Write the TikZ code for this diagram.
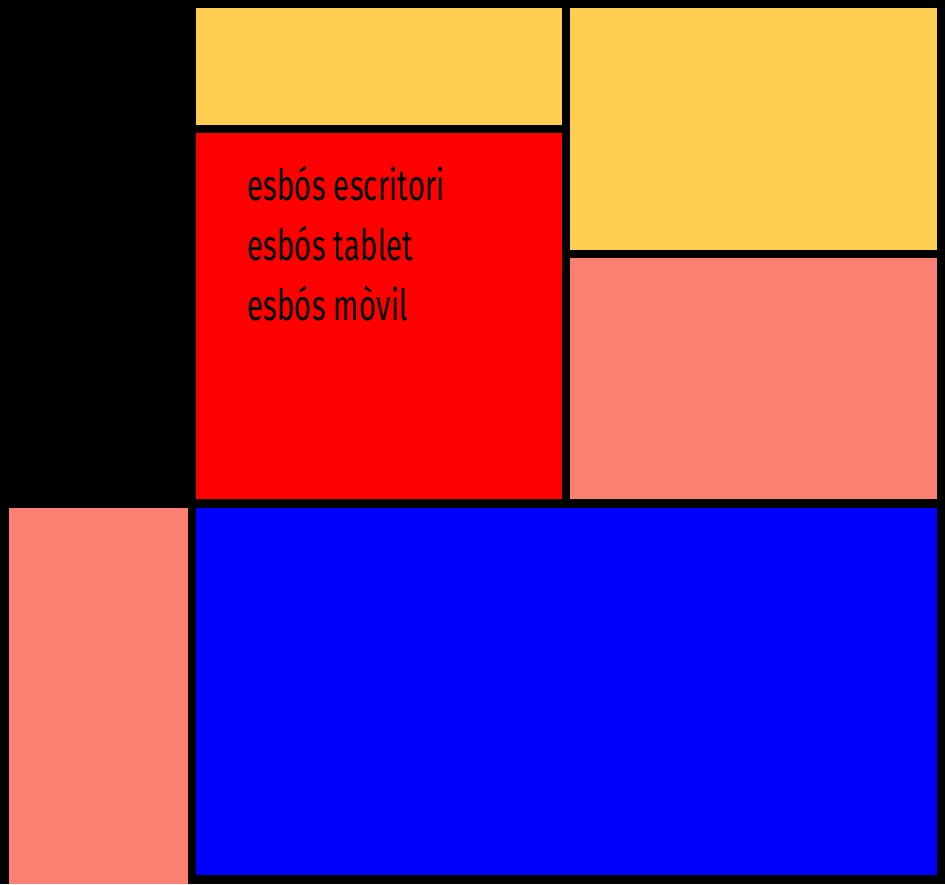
\documentclass[tikz,border=0pt]{standalone}
\usepackage{fontspec}
\setmainfont{Fira Sans}[FakeStretch=0.69]
\definecolor{myyellow}{HTML}{FFCE51}
\definecolor{mysalmon}{HTML}{FA8072}
\definecolor{myred}{HTML}{FF0000}
\definecolor{myblue}{HTML}{0000FF}
\tikzset{
  label/.style={anchor=base west, inner sep=0pt, text=black, font=\fontsize{43}{43}\selectfont}
}
\begin{document}
\begin{tikzpicture}[x=1pt,y=-1pt]
\fill[black] (0,0) rectangle (945,884);
\useasboundingbox (0,0) rectangle (945,884);
\fill[myyellow] (196,8) rectangle (562,125);
\fill[myyellow] (570,8) rectangle (937,250);
\fill[myred] (196,133) rectangle (562,499);
\fill[mysalmon] (570,258) rectangle (937,499);
\fill[mysalmon] (9,508) rectangle (188,884);
\fill[myblue] (196,508) rectangle (937,875);
\node[label] (t1) at (247,200) {esbós escritori};
\node[label] (t2) at (247,260) {esbós tablet};
\node[label] (t3) at (247,320) {esbós mòvil};
\end{tikzpicture}
\end{document}
